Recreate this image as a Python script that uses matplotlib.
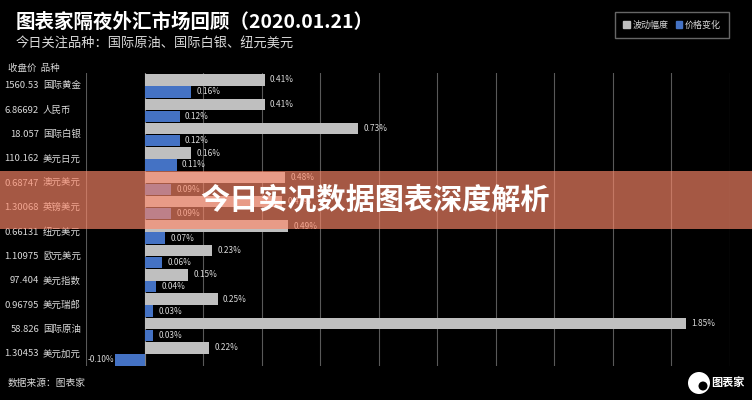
import numpy as np
import matplotlib.pyplot as plt
from matplotlib.patches import Rectangle, Patch, Ellipse
from matplotlib.transforms import blended_transform_factory

plt.rcParams['font.family'] = ['Noto Sans CJK SC', 'DejaVu Sans']

# Données
names = ["国际黄金", "人民币", "国际白银", "美元日元", "澳元美元", "英镑美元",
         "纽元美元", "欧元美元", "美元指数", "美元瑞郎", "国际原油", "美元加元"]
prices = ["1560.53", "6.86692", "18.057", "110.162", "0.68747", "1.30068",
          "0.66131", "1.10975", "97.404", "0.96795", "58.826", "1.30453"]
amplitude = [0.41, 0.41, 0.73, 0.16, 0.48, 0.47, 0.49, 0.23, 0.15, 0.25, 1.85, 0.22]
change = [0.16, 0.12, 0.12, 0.11, 0.09, 0.09, 0.07, 0.06, 0.04, 0.03, 0.03, -0.10]

gray = "#bfbfbf"
blue = "#4472c4"
txt = "#d9d9d9"

fig = plt.figure(figsize=(7.52, 4.0), dpi=100, facecolor="black")
ax = fig.add_axes([86 / 752, 1 - 366 / 400, 644 / 752, 293 / 400], facecolor="black")

y = np.arange(len(names))
ax.barh(y - 0.245, amplitude, height=0.47, color=gray, zorder=3)
ax.barh(y + 0.245, change, height=0.47, color=blue, zorder=3)

for i in range(len(names)):
    ax.text(amplitude[i] + 0.018, i - 0.245, f"{amplitude[i]:.2f}%", color=txt,
            fontsize=6, va="center", ha="left", zorder=4)
    if change[i] >= 0:
        ax.text(change[i] + 0.018, i + 0.245, f"{change[i]:.2f}%", color=txt,
                fontsize=6, va="center", ha="left", zorder=4)
    else:
        ax.text(change[i] - 0.005, i + 0.245, f"{change[i]:.2f}%", color=txt,
                fontsize=6, va="center", ha="right", zorder=4)

ax.set_xlim(-0.2, 2.0)
ax.set_ylim(11.5, -0.53)
ax.set_xticks(np.arange(-0.2, 2.01, 0.2))
ax.set_xticklabels([])
ax.set_yticks([])
ax.tick_params(length=0)
ax.grid(axis="x", color="#595959", linewidth=0.8, zorder=0)
for s in ax.spines.values():
    s.set_visible(False)
ax.axvline(0, color="#7f7f7f", linewidth=0.8, zorder=2)

# étiquettes à gauche
tr = blended_transform_factory(fig.transFigure, ax.transData)
for i in range(len(names)):
    ax.text(39 / 752, i, prices[i], transform=tr, ha="right", va="center",
            color=txt, fontsize=6.8, clip_on=False)
    ax.text(43 / 752, i, names[i], transform=tr, ha="left", va="center",
            color=txt, fontsize=6.8, clip_on=False)
fig.text(8 / 752, 1 - 68 / 400, "收盘价  品种", color=txt, fontsize=6.8, va="center")

# titres
fig.text(16 / 752, 1 - 22 / 400, "图表家隔夜外汇市场回顾（2020.01.21）", color="white",
         fontsize=14, fontweight="bold", va="center")
fig.text(16 / 752, 1 - 44 / 400, "今日关注品种：国际原油、国际白银、纽元美元", color=txt,
         fontsize=9.5, va="center")
fig.text(8 / 752, 1 - 383 / 400, "数据来源：图表家", color=txt, fontsize=7, va="center")

# légende
handles = [Patch(color=gray, label="波动幅度"), Patch(color=blue, label="价格变化")]
leg = fig.legend(handles=handles, loc="center", bbox_to_anchor=(672 / 752, 1 - 25 / 400),
                 ncol=2, fontsize=6.5, frameon=True, handlelength=0.7, handleheight=0.7,
                 handletextpad=0.3, columnspacing=0.8, borderpad=0.9, fancybox=False)
leg.get_frame().set_facecolor("black")
leg.get_frame().set_edgecolor("#808080")
for t in leg.get_texts():
    t.set_color(txt)

# logo
fig.text(745 / 752, 1 - 382 / 400, "图表家", color="white", fontsize=8,
         fontweight="bold", ha="right", va="center")
fig.patches.append(Ellipse((699 / 752, 1 - 383 / 400), 22 / 752, 22 / 400,
                           transform=fig.transFigure, facecolor="white", zorder=5))
fig.patches.append(Ellipse((703 / 752, 1 - 386 / 400), 9 / 752, 9 / 400,
                           transform=fig.transFigure, facecolor="black", zorder=6))

# bandeau
band = Rectangle((0, 1 - 229 / 400), 1, 58 / 400, transform=fig.transFigure,
                 facecolor=(1.0, 0.537, 0.416), alpha=0.65, edgecolor="none", zorder=10)
fig.patches.append(band)
fig.text(375 / 752, 1 - 200 / 400, "今日实况数据图表深度解析", color="white", fontsize=21,
         fontweight="heavy", ha="center", va="center", zorder=11)

fig.savefig("out.png", dpi=100, facecolor="black")
